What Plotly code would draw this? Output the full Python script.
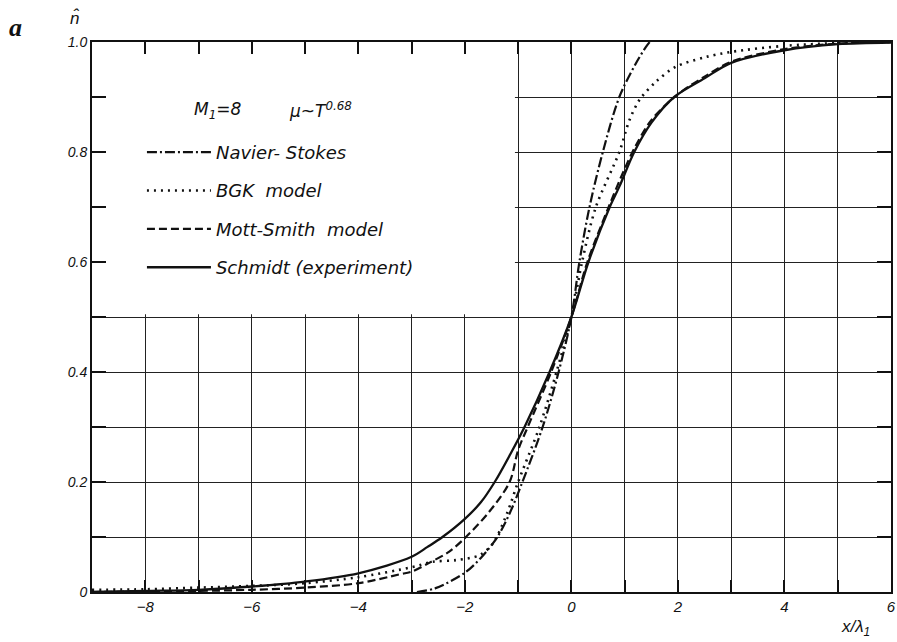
import plotly.graph_objects as go

# ---------------- data ----------------
ns_x = [-2.9, -2.55, -2.0, -1.7, -1.39, -1.15, -0.92, -0.54, -0.24, 0.0, 0.15, 0.34, 0.59, 0.9, 1.21, 1.4, 1.47]
ns_y = [0.0, 0.007, 0.035, 0.062, 0.1, 0.145, 0.2, 0.3, 0.4, 0.5, 0.6, 0.7, 0.8, 0.9, 0.961, 0.991, 1.0]

bgk_x = [-9, -8, -7, -6, -5, -4, -3, -2.6, -2.16, -1.72, -1.5, -1.4, -1.2, -1.0, -0.6, -0.28, 0.0, 0.2,
         0.46, 0.9, 1.09, 1.28, 1.59, 1.96, 2.5, 3, 4, 5, 6]
bgk_y = [0.004, 0.005, 0.008, 0.011, 0.016, 0.027, 0.045, 0.055, 0.058, 0.067, 0.085, 0.1, 0.145, 0.2,
         0.3, 0.4, 0.5, 0.6, 0.7, 0.8, 0.858, 0.895, 0.928, 0.955, 0.972, 0.982, 0.993, 0.998, 1.0]

ms_x = [-9, -8, -7, -6, -5, -4, -3.23, -3, -2.67, -2.3, -1.98, -1.55, -1.16, -1.0, -0.82, -0.38, 0.0,
        0.3, 0.7, 0.98, 1.2, 1.5, 2, 2.5, 3, 4, 5, 6]
ms_y = [0.0, 0.001, 0.002, 0.004, 0.008, 0.016, 0.032, 0.037, 0.053, 0.073, 0.1, 0.145, 0.2, 0.258,
        0.3, 0.4, 0.5, 0.6, 0.7, 0.765, 0.81, 0.858, 0.905, 0.937, 0.964, 0.987, 0.997, 1.0]

exp_x = [-9, -8, -7, -6, -5, -4, -3, -2.7, -2.42, -2, -1.7, -1.44, -1.15, -0.88, -0.41, 0.0, 0.32,
         0.72, 0.9, 1.18, 1.5, 1.93, 2.5, 3, 4, 5, 6]
exp_y = [0.0, 0.002, 0.004, 0.01, 0.019, 0.034, 0.064, 0.082, 0.1, 0.133, 0.163, 0.2, 0.25, 0.3, 0.4,
         0.5, 0.6, 0.7, 0.737, 0.8, 0.853, 0.9, 0.934, 0.962, 0.985, 0.996, 0.999]

series_names = ["Navier- Stokes", "BGK  model", "Mott-Smith  model", "Schmidt (experiment)"]

x_ticks = list(range(-9, 7))
x_ticklabels = ["" if v % 2 else ("\u2212" + str(-v) if v < 0 else str(v)) for v in x_ticks]
y_ticks = [round(i * 0.1, 1) for i in range(11)]
y_ticklabels = ["0", "", "0.2", "", "0.4", "", "0.6", "", "0.8", "", "1.0"]

FONT = "DejaVu Sans"
TICKFONT = "Liberation Sans"
INK = "#111111"

fig = go.Figure()

styles = [
    dict(width=2.2, dash="10px,3px,2px,3px"),
    dict(width=2.6, dash="2px,5px"),
    dict(width=2.2, dash="8px,4px"),
    dict(width=2.3, dash="solid"),
]
for i, (xs, ys) in enumerate([(ns_x, ns_y), (bgk_x, bgk_y), (ms_x, ms_y), (exp_x, exp_y)]):
    fig.add_trace(go.Scatter(
        x=xs, y=ys, mode="lines", name=series_names[i],
        legendgroup=f"g{i}",
        line=dict(color=INK, shape="spline", smoothing=0.9, **styles[i]),
    ))

# white panel hiding the grid behind the legend (above grid, below traces)
fig.add_shape(type="rect", xref="x", yref="y", x0=-9, x1=-1.06, y0=0.505, y1=1.0,
              fillcolor="white", line=dict(width=0), layer="between")

fig.update_xaxes(
    range=[-9, 6], tickvals=x_ticks, ticktext=x_ticklabels, automargin=False,
    showgrid=True, gridcolor="#222222", gridwidth=1.2, zeroline=False,
    showline=True, linecolor=INK, linewidth=2, mirror="ticks",
    ticks="inside", ticklen=12, tickwidth=1.6, tickcolor=INK,
    tickfont=dict(family=TICKFONT, size=15, color=INK, style="italic"),
)
fig.update_yaxes(
    range=[0, 1.0], tickvals=y_ticks, ticktext=y_ticklabels, automargin=False,
    showgrid=True, gridcolor="#222222", gridwidth=1.2, zeroline=False,
    showline=True, linecolor=INK, linewidth=2, mirror="ticks",
    ticks="inside", ticklen=14, tickwidth=1.6, tickcolor=INK,
    tickfont=dict(family=TICKFONT, size=14, color=INK, style="italic"),
)

fig.add_annotation(text="<b><i>a</i></b>", xref="paper", yref="paper", x=-0.106, y=1.027,
                   showarrow=False, font=dict(family="Liberation Serif", size=26, color=INK),
                   xanchor="left", yanchor="middle")
fig.add_annotation(text="n\u0302", xref="paper", yref="paper", x=-0.03, y=1.044,
                   showarrow=False, font=dict(family=TICKFONT, size=17, color=INK, style="italic"),
                   xanchor="left", yanchor="middle")
fig.add_annotation(text="x/\u03bb<sub>1</sub>", xref="paper", yref="paper", x=0.976, y=-0.065,
                   showarrow=False, font=dict(family=TICKFONT, size=17, color=INK, style="italic"),
                   xanchor="right", yanchor="middle")
# legend header
fig.add_annotation(text="M<sub>1</sub>=8", xref="paper", yref="paper", x=0.125, y=0.876,
                   showarrow=False, font=dict(family=FONT, size=17, color=INK, style="italic"),
                   xanchor="left", yanchor="middle")
fig.add_annotation(text="\u03bc~T<sup>0.68</sup>", xref="paper", yref="paper", x=0.244, y=0.876,
                   showarrow=False, font=dict(family=FONT, size=17, color=INK, style="italic"),
                   xanchor="left", yanchor="middle")

fig.update_layout(
    width=897, height=642,
    margin=dict(l=92, r=6, t=42, b=50),
    paper_bgcolor="white", plot_bgcolor="white",
    showlegend=True,
    legend=dict(
        x=0.0625, y=0.833, xanchor="left", yanchor="top",
        bgcolor="rgba(0,0,0,0)", borderwidth=0,
        traceorder="grouped", tracegroupgap=12, itemwidth=64,
        font=dict(family=FONT, size=18, color=INK, style="italic"),
    ),
)

fig.write_html("out.html")
